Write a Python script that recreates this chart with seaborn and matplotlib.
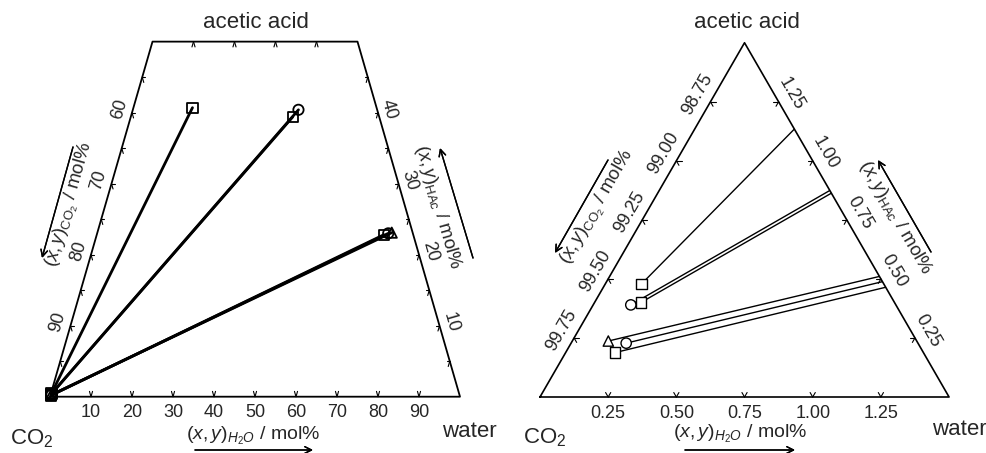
import numpy as np
import pandas as pd
import seaborn as sns
import matplotlib.pyplot as plt
from matplotlib.patches import Polygon

# CO2-rich phase compositions (mol%)
liq_water = [0.133, 0.138, 0.170, 0.132, 0.202, 0.181]
liq_hac = [0.479, 0.390, 0.400, 0.237, 0.228, 0.188]
# water/acid-rich phase compositions (mol%)
aq_water = [14.4, 40.4, 39.5, 71.8, 71.0, 70.0]
aq_hac = [40.7, 40.4, 39.4, 23.1, 23.0, 22.8]
series = ['square', 'circle', 'square', 'triangle', 'circle', 'square']

left_bottom_ticks = [10, 20, 30, 40, 50, 60, 70, 80, 90]
left_co2_labels = [60, 70, 80, 90]
left_hac_labels = [10, 20, 30, 40]
right_ticks = [0.25, 0.50, 0.75, 1.00, 1.25]
right_co2_labels = [98.75, 99.00, 99.25, 99.50, 99.75]

sns.set_theme(style='white')
plt.rcParams['font.family'] = ['Liberation Sans', 'DejaVu Sans']
plt.rcParams['mathtext.fontset'] = 'custom'
plt.rcParams['mathtext.rm'] = 'Liberation Sans'
plt.rcParams['mathtext.it'] = 'Liberation Sans:italic'

W, H = 987, 453
SQ3 = np.sqrt(3)
marker_map = {'square': 's', 'circle': 'o', 'triangle': '^'}


def left_xy(w, h):
    # HAc axis stretched x2 (diagram cut at 50 mol% HAc)
    return np.asarray(w) + np.asarray(h) / 2, np.asarray(h) * SQ3


def right_xy(w, h):
    return np.asarray(w) + np.asarray(h) / 2, np.asarray(h) * SQ3 / 2


def ftext(px, py, s, **kw):
    fig.text(px / W, 1 - py / H, s, **kw)


def farrow(p0, p1):
    fig.add_artist(plt.annotate('', xy=(p1[0] / W, 1 - p1[1] / H), xytext=(p0[0] / W, 1 - p0[1] / H),
                                xycoords='figure fraction', textcoords='figure fraction',
                                arrowprops=dict(arrowstyle='->', lw=1.0, color='black',
                                                mutation_scale=12, shrinkA=0, shrinkB=0)))


def chevron(ax, fxy, pt, arms):
    x0, y0 = fxy(*pt)
    for a in arms:
        x1, y1 = fxy(*a)
        ax.plot([x0, x1], [y0, y1], color='black', lw=0.8)


fig = plt.figure(figsize=(W / 100, H / 100), dpi=100)

# ---------------- left panel ----------------
sl = 4.1
ax_l = fig.add_axes([0, 0, 493 / W, 1])
ax_l.set_xlim(-50 / sl, (493 - 50) / sl)
ax_l.set_ylim((396.7 - 453) / sl, 396.7 / sl)
ax_l.set_axis_off()

tie_rows = []
for i in range(len(series)):
    for w, h in [(liq_water[i], liq_hac[i]), (aq_water[i], aq_hac[i])]:
        x, y = left_xy(w, h)
        tie_rows.append({'tie': i, 'X': x, 'Y': y})
ties_l = pd.DataFrame(tie_rows)
sns.lineplot(data=ties_l, x='X', y='Y', units='tie', estimator=None, sort=False,
             color='black', lw=2.0, ax=ax_l, legend=False)

pts_l = pd.DataFrame({'series': series * 2})
xl, yl = left_xy(liq_water + aq_water, liq_hac + aq_hac)
pts_l['X'], pts_l['Y'] = xl, yl
sns.scatterplot(data=pts_l, x='X', y='Y', style='series', markers=marker_map, s=55,
                facecolor='none', edgecolor='black', linewidth=1.3, ax=ax_l, legend=False, zorder=5)

tx, ty = left_xy([0, 100, 50, 0, 0], [0, 0, 50, 50, 0])
ax_l.plot(tx, ty, color='black', lw=1.3)

d = 0.75
for w in left_bottom_ticks:
    chevron(ax_l, left_xy, (w, 0), [(w, d), (w - d, d)])
    ax_l.annotate(str(w), xy=left_xy(w, 0), xytext=(0, -16 * 0.72), textcoords='offset points',
                  ha='center', va='center', fontsize=13)
for w in [10, 20, 30, 40]:
    chevron(ax_l, left_xy, (w, 50), [(w, 50 - d), (w + d, 50 - d)])
for h in range(5, 50, 5):
    chevron(ax_l, left_xy, (0, h), [(d, h), (d, h - d)])
    chevron(ax_l, left_xy, (100 - h, h), [(100 - h - d, h), (100 - h, h - d)])
for c in left_co2_labels:
    ax_l.annotate(str(c), xy=left_xy(0, 100 - c), xytext=(-12.5 * 0.72, 3.5 * 0.72),
                  textcoords='offset points', ha='center', va='center', rotation=74, fontsize=13)
for h in left_hac_labels:
    ax_l.annotate(str(h), xy=left_xy(100 - h, h), xytext=(11 * 0.72, 3 * 0.72),
                  textcoords='offset points', ha='center', va='center', rotation=-74, fontsize=13)

# ---------------- right panel ----------------
sr = 272.7
ax_r = fig.add_axes([493 / W, 0, 494 / W, 1])
ax_r.set_xlim((493 - 540) / sr, (987 - 540) / sr)
ax_r.set_ylim((397 - 453) / sr, 397 / sr)
ax_r.set_axis_off()

tie_rows = []
for i in range(len(series)):
    for w, h in [(liq_water[i], liq_hac[i]), (aq_water[i], aq_hac[i])]:
        x, y = right_xy(w, h)
        tie_rows.append({'tie': i, 'X': x, 'Y': y})
ties_r = pd.DataFrame(tie_rows)
n_before = len(ax_r.lines)
sns.lineplot(data=ties_r, x='X', y='Y', units='tie', estimator=None, sort=False,
             color='black', lw=1.0, ax=ax_r, legend=False)
tx, ty = right_xy([0, 1.5, 0], [0, 0, 1.5])
clip = Polygon(np.column_stack([tx, ty]), closed=True, transform=ax_r.transData)
for ln in ax_r.lines[n_before:]:
    ln.set_clip_path(clip)
ax_r.set_xlim((493 - 540) / sr, (987 - 540) / sr)
ax_r.set_ylim((397 - 453) / sr, 397 / sr)

pts_r = pd.DataFrame({'series': series})
xr, yr = right_xy(liq_water, liq_hac)
pts_r['X'], pts_r['Y'] = xr, yr
sns.scatterplot(data=pts_r, x='X', y='Y', style='series', markers=marker_map, s=55,
                facecolor='white', edgecolor='black', linewidth=1.0, ax=ax_r, legend=False, zorder=5)

tx, ty = right_xy([0, 1.5, 0, 0], [0, 0, 1.5, 0])
ax_r.plot(tx, ty, color='black', lw=1.2)

d = 0.019
for t in right_ticks:
    chevron(ax_r, right_xy, (t, 0), [(t, d), (t - d, d)])
    ax_r.annotate('%.2f' % t, xy=right_xy(t, 0), xytext=(0, -16 * 0.72), textcoords='offset points',
                  ha='center', va='center', fontsize=13)
    chevron(ax_r, right_xy, (0, t), [(d, t), (d, t - d)])
    chevron(ax_r, right_xy, (1.5 - t, t), [(1.5 - t - d, t), (1.5 - t, t - d)])
    ax_r.annotate('%.2f' % t, xy=right_xy(1.5 - t, t), xytext=(13 * 0.72, 7.5 * 0.72),
                  textcoords='offset points', ha='center', va='center', rotation=-60, fontsize=13)
for c in right_co2_labels:
    ax_r.annotate('%.2f' % c, xy=right_xy(0, 100 - c), xytext=(-13 * 0.72, 7.5 * 0.72),
                  textcoords='offset points', ha='center', va='center', rotation=60, fontsize=13)

# ---------------- labels ----------------
for cx in (256, 747):
    ftext(cx, 22, 'acetic acid', ha='center', va='center', fontsize=16)
ftext(10, 444, r'CO$_2$', ha='left', va='baseline', fontsize=16)
ftext(523, 443, r'CO$_2$', ha='left', va='baseline', fontsize=16)
ftext(442, 437, 'water', ha='left', va='baseline', fontsize=16)
ftext(932, 435, 'water', ha='left', va='baseline', fontsize=16)

xlab = r'$\mathit{(x,y)}_{\mathit{H_2O}}$ / mol%'
co2lab = r'$\mathit{(x,y)}_{\mathrm{CO_2}}$ / mol%'
haclab = r'$\mathit{(x,y)}_{\mathrm{HAc}}$ / mol%'
ftext(253, 436, xlab, ha='center', va='center', fontsize=14)
ftext(740, 434, xlab, ha='center', va='center', fontsize=14)
farrow((195, 450), (313, 450))
farrow((685, 450), (795, 450))

ftext(70, 205, co2lab, ha='center', va='center', rotation=74, rotation_mode='anchor', fontsize=13.5)
farrow((73, 147), (42, 258))
ftext(438, 207, haclab, ha='center', va='center', rotation=-74, rotation_mode='anchor', fontsize=13.5)
farrow((473, 258), (440, 148))

ftext(598, 207, co2lab, ha='center', va='center', rotation=60, rotation_mode='anchor', fontsize=13.5)
farrow((608, 160), (555, 253))
ftext(895, 218, haclab, ha='center', va='center', rotation=-60, rotation_mode='anchor', fontsize=13.5)
farrow((931, 252), (878, 160))

fig.savefig('out.png', dpi=100)
